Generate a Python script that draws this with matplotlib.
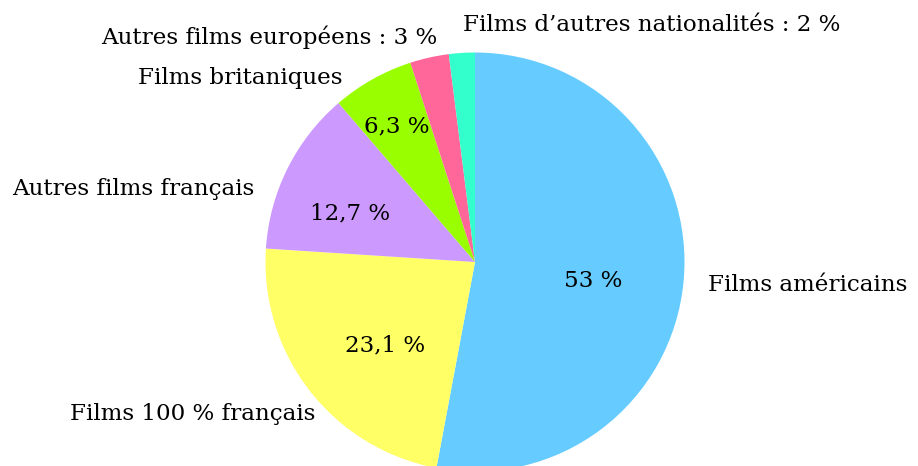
import matplotlib
matplotlib.use("Agg")
import matplotlib.pyplot as plt

categories = ["Films américains", "Films 100 % français", "Autres films français",
              "Films britaniques", "Autres films européens", "Films d’autres nationalités"]
values = [53, 23.1, 12.7, 6.3, 3, 2]
value_labels = ["53 %", "23,1 %", "12,7 %", "6,3 %", "3 %", "2 %"]
colors = ["#66CCFF", "#FFFF66", "#CC99FF", "#99FF00", "#FF6699", "#33FFCC"]

W, H = 918, 466
fig = plt.figure(figsize=(W / 100, H / 100), dpi=100)
ax = fig.add_axes([0, 0, 1, 1])

cx, cy, r = 475, H - 262, 209.5
ax.pie(values, colors=colors, startangle=90, counterclock=False,
       center=(cx, cy), radius=r, normalize=True,
       wedgeprops=dict(linewidth=0), frame=True)
ax.set_xlim(0, W)
ax.set_ylim(0, H)
ax.set_aspect("equal")
ax.axis("off")

fam = "DejaVu Serif"
fs = 16.6
def t(x, y, s, ha="left"):
    ax.text(x, H - y, s, ha=ha, va="center", fontsize=fs, family=fam, color="black")

# values inside slices
t(593, 281, value_labels[0], ha="center")
t(385, 345, value_labels[1], ha="center")
t(350, 213, value_labels[2], ha="center")
t(397, 126, value_labels[3], ha="center")

# category labels
t(708, 285, categories[0])
t(70, 414, categories[1])
t(12, 189, categories[2])
t(138, 78, categories[3])
t(437, 37, f"{categories[4]} : {value_labels[4]}", ha="right")
t(463, 25, f"{categories[5]} : {value_labels[5]}")

fig.savefig("out.png", dpi=100)
